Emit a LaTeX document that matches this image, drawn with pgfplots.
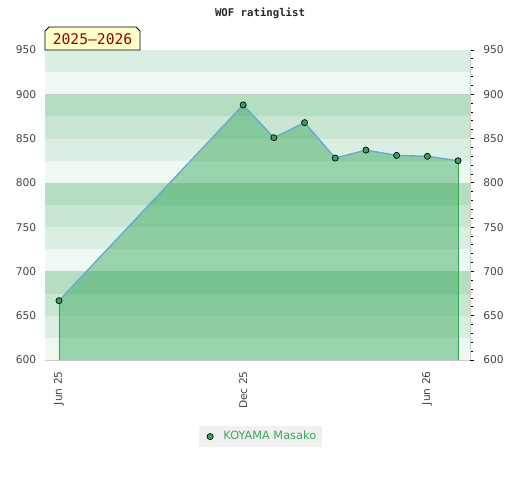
\documentclass[border=0pt]{standalone}
\usepackage{pgfplots}
\pgfplotsset{compat=1.18}
\usepackage{fontspec}
\setmainfont{DejaVu Sans}
\newfontfamily\monofont{DejaVu Sans Mono}
\definecolor{bandA}{HTML}{EFF8F2}
\definecolor{bandB}{HTML}{DBEEE2}
\definecolor{bandC}{HTML}{C8E6D2}
\definecolor{bandD}{HTML}{B4DDC2}
\definecolor{areafill}{RGB}{44,164,81}
\definecolor{linecol}{HTML}{62A8DC}
\definecolor{markcol}{HTML}{3A9E5C}
\definecolor{edgecol}{HTML}{2EAA55}
\definecolor{legtext}{HTML}{3AAA5A}
\definecolor{ticktext}{HTML}{444444}
\definecolor{framecol}{HTML}{CCCCCC}
\definecolor{boxfill}{HTML}{FFFFC8}
\definecolor{boxtext}{HTML}{990000}
\begin{document}
\begin{tikzpicture}[x=1pt,y=1pt]
\path[use as bounding box] (0,0) rectangle (390,360);
\begin{axis}[
  at={(33.75pt,90pt)}, anchor=south west,
  scale only axis, width=318.75pt, height=232.5pt,
  xmin=-0.456, xmax=13.39, ymin=600, ymax=950,
  axis line style={draw=framecol},
  xtick={0,6,12}, xticklabels={Jun 25,Dec 25,Jun 26},
  ytick={600,650,...,950},
  major tick length=0pt,
  tick label style={font=\fontsize{8}{10}\selectfont, text=ticktext},
  xticklabel style={rotate=90, anchor=east, xshift=-5pt},
  yticklabel style={xshift=-3pt},
  /pgf/number format/assume math mode=true,
  legend style={at={(0.507,-0.247)}, anchor=center, draw=none, fill=black!6,
    font=\fontsize{8.5}{10}\selectfont, text=legtext, inner xsep=2pt, inner ysep=2pt},
  legend cell align=left,
]
\pgfplotsinvokeforeach{600,700,800,900}{
  \fill[bandA] (axis cs:-1,#1) rectangle (axis cs:14,#1+25);
  \fill[bandB] (axis cs:-1,#1+25) rectangle (axis cs:14,#1+50);
  \fill[bandC] (axis cs:-1,#1+50) rectangle (axis cs:14,#1+75);
  \fill[bandD] (axis cs:-1,#1+75) rectangle (axis cs:14,#1+100);
}
\draw[framecol, line width=0.6pt] (axis cs:-1,900) -- (axis cs:14,900);
\addplot[draw=none, fill=areafill, fill opacity=0.44, forget plot] coordinates {
(0,600) (0,667) (6,888) (7,851) (8,868) (9,828) (10,837) (11,831) (12,830) (13,825) (13,600)
} -- cycle;
\addplot[edgecol, line width=0.7pt, forget plot] coordinates {(0,600) (0,667)};
\addplot[edgecol, line width=0.7pt, forget plot] coordinates {(13,600) (13,825)};
\addplot[linecol, line width=1pt, mark=*, mark size=2.3pt,
  mark options={fill=markcol, draw=black, line width=0.5pt},
  legend image code/.code={\path[draw=none,fill=none] (0pt,0pt) -- (14pt,0pt);\draw[mark=*, mark size=2.3pt, mark options={fill=markcol, draw=black, line width=0.5pt}] plot coordinates {(6pt,0pt)};}
] coordinates {
(0,667) (6,888) (7,851) (8,868) (9,828) (10,837) (11,831) (12,830) (13,825)
};
\addlegendentry{KOYAMA Masako}
\end{axis}
\begin{axis}[
  at={(33.75pt,90pt)}, anchor=south west,
  scale only axis, width=318.75pt, height=232.5pt,
  xmin=-0.456, xmax=13.39, ymin=600, ymax=950,
  axis x line=none, axis y line*=right,
  axis line style={draw=framecol},
  ytick={600,650,...,950}, minor y tick num=4,
  tick align=outside, major tick length=3pt, minor tick length=2pt,
  tick style={black, line width=0.6pt},
  yticklabel style={font=\fontsize{8}{10}\selectfont, text=ticktext, xshift=3.5pt},
  /pgf/number format/assume math mode=true,
]
\addplot[draw=none] coordinates {(0,700)};
\end{axis}
\node[font=\monofont\bfseries\fontsize{8}{10}\selectfont, text=black!85] at (195,350.25) {WOF ratinglist};
\filldraw[fill=boxfill, draw=black, line width=0.6pt] (33.75,322.5) -- (33.75,336.75) -- (36.75,339.75) -- (102,339.75) -- (105,336.75) -- (105,322.5) -- cycle;
\node[font=\monofont\fontsize{11}{13}\selectfont, text=boxtext] at (69.4,330.75) {2025–2026};
\end{tikzpicture}
\end{document}
